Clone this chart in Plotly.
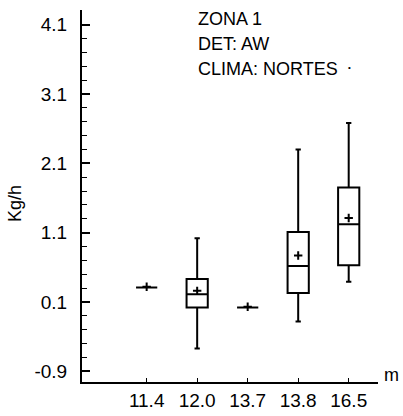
import plotly.graph_objects as go

# Kg/h distribution per length class (m)
categories = ["11.4", "12.0", "13.7", "13.8", "16.5"]
lower_fence = [0.31, -0.57, 0.02, -0.18, 0.39]
q1_values = [0.31, 0.02, 0.02, 0.23, 0.63]
medians = [0.31, 0.21, 0.02, 0.62, 1.22]
q3_values = [0.31, 0.43, 0.02, 1.11, 1.75]
upper_fence = [0.31, 1.02, 0.02, 2.30, 2.68]
means = [0.32, 0.26, 0.03, 0.77, 1.31]

y_tick_values = [4.1, 3.1, 2.1, 1.1, 0.1, -0.9]
y_tick_labels = ["4.1", "3.1", "2.1", "1.1", "0.1", "-0.9"]

title_lines = ["ZONA 1", "DET: AW", "CLIMA: NORTES"]

W, H = 403, 416
L, R, T, B = 82, 25, 10, 34
PW, PH = W - L - R, H - T - B


def px_x(p):
    return (p - L) / PW


def px_y(p):
    return (H - B - p) / PH


FONT = "Liberation Sans, Arial, sans-serif"

fig = go.Figure()

fig.add_trace(go.Box(
    x=categories,
    q1=q1_values,
    median=medians,
    q3=q3_values,
    lowerfence=lower_fence,
    upperfence=upper_fence,
    width=0.42,
    whiskerwidth=0.25,
    boxpoints=False,
    fillcolor="rgba(0,0,0,0)",
    line=dict(color="black", width=2),
    showlegend=False,
    hoverinfo="skip",
))

fig.add_trace(go.Scatter(
    x=categories,
    y=means,
    mode="markers",
    marker=dict(symbol="cross-thin", size=6, line=dict(color="black", width=2)),
    showlegend=False,
    hoverinfo="skip",
))

annotations = []
for text, yp in zip(title_lines, [19, 44, 69]):
    annotations.append(dict(
        text=text, xref="paper", yref="paper",
        x=px_x(196), y=px_y(yp), xanchor="left", yanchor="middle",
        showarrow=False, font=dict(family=FONT, size=18, color="black"),
    ))
annotations.append(dict(
    text="•", xref="paper", yref="paper", x=px_x(349), y=px_y(67),
    xanchor="center", yanchor="middle", showarrow=False,
    font=dict(family=FONT, size=8, color="black"),
))
annotations.append(dict(
    text="Kg/h", xref="paper", yref="paper", x=px_x(15), y=px_y(204),
    xanchor="center", yanchor="middle", textangle=-90, showarrow=False,
    font=dict(family=FONT, size=18, color="black"),
))
annotations.append(dict(
    text="m", xref="paper", yref="paper", x=px_x(391), y=px_y(375),
    xanchor="center", yanchor="middle", showarrow=False,
    font=dict(family=FONT, size=18, color="black"),
))

fig.update_layout(
    width=W, height=H,
    margin=dict(l=L, r=R, t=T, b=B, pad=0, autoexpand=False),
    paper_bgcolor="white", plot_bgcolor="white",
    annotations=annotations,
    xaxis=dict(
        type="category",
        range=[-1.28, 4.58],
        automargin=False,
        showline=True, linecolor="black", linewidth=2,
        ticks="inside", ticklen=4, tickwidth=1, tickcolor="black",
        showgrid=False, zeroline=False,
        tickfont=dict(family=FONT, size=19, color="black"),
        ticklabelstandoff=0,
    ),
    yaxis=dict(
        range=[-1.054, 4.31],
        automargin=False,
        tickvals=y_tick_values, ticktext=y_tick_labels,
        showline=True, linecolor="black", linewidth=2,
        ticks="inside", ticklen=8, tickwidth=2, tickcolor="black",
        minor=dict(dtick=0.2, tick0=0.1, ticks="inside", ticklen=5,
                   tickwidth=1, tickcolor="black"),
        showgrid=False, zeroline=False,
        tickfont=dict(family=FONT, size=19, color="black"),
        ticklabelstandoff=9,
    ),
)

fig.write_html("out.html")
